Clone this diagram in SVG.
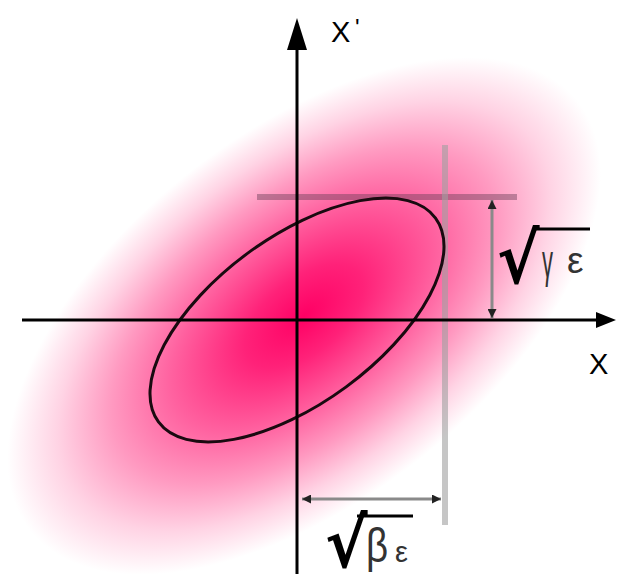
<svg xmlns="http://www.w3.org/2000/svg" width="618" height="574" viewBox="0 0 618 574">
<style>
.axis{stroke:#000;stroke-width:3;fill:none}
.dim{stroke:#8a8a8a;stroke-width:3;fill:none}
.lbl{font-family:"Liberation Sans",Arial,sans-serif;fill:#000}
.gr{font-family:"Liberation Sans",Arial,sans-serif;fill:#333}
.rad{font-family:"DejaVu Sans","Liberation Sans",sans-serif;font-weight:bold;fill:#000}
.ovl{stroke:#000;stroke-width:3}
</style>
<defs>
<radialGradient id="blob" gradientUnits="userSpaceOnUse" cx="0" cy="0" r="1" gradientTransform="translate(304,316) rotate(-38) scale(348,184)">
<stop offset="0" stop-color="#ff0064"/>
<stop offset="0.2" stop-color="#ff2279"/>
<stop offset="0.45" stop-color="#ff62a0"/>
<stop offset="0.65" stop-color="#ff9ac1"/>
<stop offset="0.83" stop-color="#ffd3e4"/>
<stop offset="1" stop-color="#ffffff"/>
</radialGradient>
<marker id="dh" viewBox="0 0 10 10" refX="10" refY="5" markerWidth="3" markerHeight="3" orient="auto-start-reverse">
<path d="M0,0 L10,5 L0,10 z" fill="#222"/>
</marker>
</defs>
<rect x="0" y="0" width="618" height="574" fill="url(#blob)"/>
<g id="guides">
<line x1="257" y1="197" x2="517" y2="197" stroke="#6a4058" stroke-opacity="0.45" stroke-width="6"/>
<line x1="445" y1="145" x2="445" y2="525" stroke="#a0a0a0" stroke-opacity="0.6" stroke-width="6"/>
</g>
<g id="ellipse">
<ellipse cx="297" cy="320" rx="172" ry="83" transform="rotate(-36.35 297 320)" fill="none" stroke="#1a0a10" stroke-width="3"/>
</g>
<g id="connectors">
<line class="axis" x1="297" y1="574" x2="297" y2="50"/>
<polygon points="297,18 287,50 307,50" fill="#000"/>
<line class="axis" x1="22" y1="320" x2="596" y2="320"/>
<polygon points="616,320 596,312 596,328" fill="#000"/>
<line class="dim" x1="492" y1="200" x2="492" y2="318" marker-start="url(#dh)" marker-end="url(#dh)"/>
<line class="dim" x1="302" y1="499" x2="441" y2="499" marker-start="url(#dh)" marker-end="url(#dh)"/>
</g>
<g id="labels">
<text class="lbl" x="331" y="42" font-size="29">X</text>
<text class="lbl" x="355" y="36" font-size="24">'</text>
<text class="lbl" x="589" y="374" font-size="29">X</text>
<text class="rad" font-size="44" transform="translate(497,283) scale(1.45,1.58)">√</text>
<line class="ovl" x1="534" y1="229" x2="590" y2="229"/>
<text class="gr" font-size="40" transform="translate(542,277) scale(0.55,1.14)">γ</text>
<text class="gr" x="567" y="273" font-size="37">ε</text>
<text class="rad" font-size="44" transform="translate(325,567) scale(1.45,1.55)">√</text>
<line class="ovl" x1="357" y1="516" x2="413" y2="516"/>
<text class="gr" font-size="48" transform="translate(366,562) scale(0.8,1)">β</text>
<text class="gr" x="395" y="562" font-size="29">ε</text>
</g>
</svg>
